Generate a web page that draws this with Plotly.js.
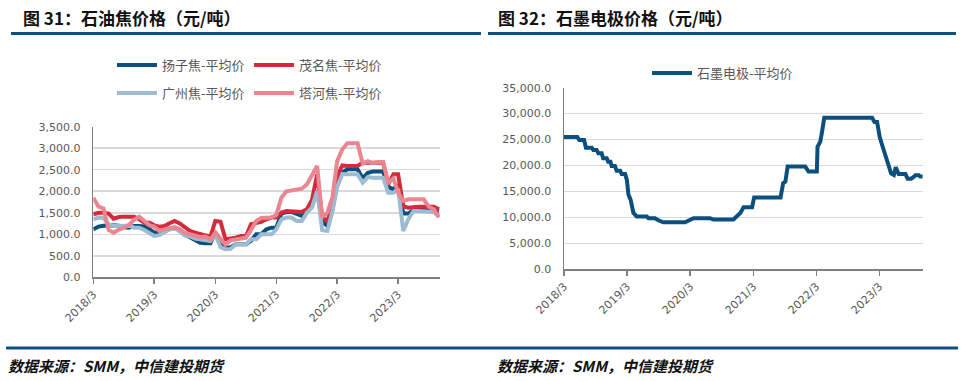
<!DOCTYPE html>
<html>
<head>
<meta charset="utf-8">
<script src="https://cdn.plot.ly/plotly-3.0.1.min.js"></script>
<style>html,body{margin:0;padding:0;background:#fff;}#chart{width:964px;height:381px;}</style>
</head>
<body>
<div id="chart"></div>
<script>
// ---------- Left chart: petroleum coke monthly average prices (元/吨), from 2018-03 ----------
const cokeStartYear = 2018, cokeStartMonth = 3;
const yangzi  = [1115,1177,1200,1208,1208,1200,1160,1154,1193,1193,1180,1115,1038,1038,1060,1120,1154,1100,980,930,850,800,790,790,
                 1050,820,689,700,767,767,767,850,1000,1000,1115,1154,1154,1480,1518,1518,1480,1425,1541,1780,2006,1300,1193,1580,
                 2200,2432,2510,2510,2510,2300,2430,2456,2456,2456,2100,2045,2150,1480,1480,1565,1565,1565,1565,1565,1541];
const maoming = [1464,1500,1500,1480,1363,1400,1410,1410,1405,1348,1270,1270,1208,1177,1190,1255,1309,1250,1154,1077,1038,1000,960,945,
                 1309,1290,883,900,922,960,960,1232,1250,1290,1348,1387,1387,1503,1541,1541,1541,1520,1580,1800,2390,1400,1309,1657,
                 2350,2600,2587,2587,2587,2665,2665,2665,2665,2665,2161,2394,2394,1650,1619,1642,1642,1642,1642,1642,1580];
const guangzhou = [1348,1387,1380,1232,1193,1193,1193,1200,1154,1154,1100,1038,960,980,1054,1115,1150,1050,975,950,900,883,860,844,
                 1000,700,651,660,767,767,767,883,883,1000,1000,1000,1115,1348,1387,1387,1309,1309,1503,1620,2006,1100,1077,1541,
                 2100,2400,2394,2394,2394,2200,2330,2316,2316,2316,1967,1967,2050,1077,1348,1541,1541,1541,1541,1520,1400];
const tahe    = [1851,1642,1600,1100,1038,1110,1154,1220,1340,1410,1309,1208,1177,1077,1115,1130,1160,1120,1030,1000,970,930,945,883,
                 1040,900,760,860,883,900,920,1100,1309,1380,1387,1387,1450,1851,2000,2022,2022,2060,2161,2350,2587,1400,1500,1870,
                 2700,2975,3114,3114,3114,2640,2700,2650,2680,2680,2200,2300,1967,1774,1812,1812,1812,1812,1640,1580,1400];
const cokeNames = ['扬子焦-平均价','茂名焦-平均价','广州焦-平均价','塔河焦-平均价'];

// ---------- Right chart: graphite electrode average price (元/吨) ----------
const graphiteDates = ['2018-03-01','2018-05-17','2018-05-28','2018-06-25','2018-07-06','2018-08-08','2018-08-18','2018-09-06',
  '2018-09-16','2018-10-05','2018-10-14','2018-11-03','2018-11-12','2018-11-25','2018-12-02','2018-12-21','2018-12-31','2019-01-20',
  '2019-01-29','2019-02-18','2019-02-28','2019-03-09','2019-03-22','2019-04-07','2019-04-26','2019-06-23','2019-07-03','2019-08-10',
  '2019-08-29','2019-09-27','2020-01-31','2020-03-01','2020-03-20','2020-06-24','2020-07-13','2020-11-06','2020-11-27','2020-12-16',
  '2021-01-04','2021-02-22','2021-03-06','2021-08-06','2021-08-21','2021-09-03','2021-09-16','2021-12-27','2022-01-15','2022-03-04',
  '2022-03-08','2022-03-24','2022-04-03','2022-04-16','2023-01-18','2023-02-01','2023-02-16','2023-03-03','2023-03-17','2023-04-15',
  '2023-05-08','2023-05-24','2023-06-04','2023-06-21','2023-07-30','2023-08-12','2023-08-31','2023-09-12','2023-09-26','2023-10-15',
  '2023-10-24','2023-11-08'];
const graphiteValues = [25500,25500,24900,24900,23450,23450,23000,23000,
  22350,22350,21400,21400,20750,20750,19900,19900,19000,19000,
  18350,18350,17250,14400,13400,10850,10200,10200,9850,9850,
  9450,9050,9050,9550,9850,9850,9600,9600,10200,10850,
  11950,11950,13850,13850,16600,16900,19800,19800,18850,18850,
  23600,24600,26500,29200,29200,28400,28400,25500,23950,21050,
  18500,18200,19650,18350,18350,17450,17450,17700,18150,18150,
  17900,17900];
const graphiteName = '石墨电极-平均价';

// ---------- tick labels ----------
const tickDates = ['2018-03-01','2019-03-01','2020-03-01','2021-03-01','2022-03-01','2023-03-01'];
const tickLabels = ['2018/3','2019/3','2020/3','2021/3','2022/3','2023/3'];

// monthly date categories for the coke series
const cokeDates = [];
for (let i = 0; i < yangzi.length; i++) {
  const mm = cokeStartMonth - 1 + i;
  const y = cokeStartYear + Math.floor(mm / 12);
  const m = (mm % 12) + 1;
  cokeDates.push(y + '-' + String(m).padStart(2, '0') + '-01');
}

const W = 964, H = 381;
const px = v => v / W;
const py = v => 1 - v / H;

const colors = ['#0b4f7e', '#d32a3c', '#9dbbd1', '#eb858f'];
const cokeSeries = [yangzi, maoming, guangzhou, tahe];
const legendFor = ['legend', 'legend', 'legend2', 'legend2'];

const traces = cokeSeries.map((vals, i) => ({
  type: 'scatter', mode: 'lines', x: cokeDates, y: vals, name: cokeNames[i],
  line: {color: colors[i], width: 4}, xaxis: 'x', yaxis: 'y', legend: legendFor[i]
}));
traces.push({
  type: 'scatter', mode: 'lines', x: graphiteDates, y: graphiteValues, name: graphiteName,
  line: {color: '#0b4f7e', width: 4, shape: 'linear'}, xaxis: 'x2', yaxis: 'y2', legend: 'legend3'
});

const tickFont = {family: 'DejaVu Sans, Verdana, sans-serif', size: 11, color: '#595959'};
const legFont = {family: 'Noto Sans CJK SC, sans-serif', size: 13, color: '#595959'};
const xRange = ['2018-03-01', '2023-11-07'];

function xAxis(domain, anchor) {
  return {
    domain: domain, anchor: anchor, type: 'date', range: xRange,
    tickmode: 'array', tickvals: tickDates, ticktext: tickLabels, tickangle: -45,
    tickfont: tickFont, ticks: 'outside', ticklen: 5, tickwidth: 1.5, tickcolor: '#7f7f7f',
    showline: true, linecolor: '#7f7f7f', linewidth: 1.5, showgrid: false, zeroline: false,
    fixedrange: true
  };
}
function yAxis(domain, anchor, max, dtick) {
  return {
    domain: domain, anchor: anchor, range: [0, max], dtick: dtick, tick0: 0,
    tickformat: ',.1f', tickfont: tickFont, ticks: '', ticklabelstandoff: 9,
    showline: true, linecolor: '#7f7f7f', linewidth: 1.5,
    showgrid: true, gridcolor: '#d9d9d9', gridwidth: 1.5, zeroline: false, fixedrange: true
  };
}

const titleFont = {family: 'Noto Sans CJK SC, sans-serif', size: 17, color: '#111', weight: 'bold'};
const srcFont = {family: 'Noto Sans CJK SC, sans-serif', size: 15, color: '#111', weight: 'bold', style: 'italic'};
const ruleColor = '#0d4f7d';

const layout = {
  width: W, height: H, margin: {l: 0, r: 0, t: 0, b: 0},
  paper_bgcolor: '#fff', plot_bgcolor: '#fff', showlegend: true,
  xaxis: xAxis([px(93.3), px(440)], 'y'),
  yaxis: yAxis([py(277.3), py(126.7)], 'x', 3500, 500),
  xaxis2: xAxis([px(564), px(922.7)], 'y2'),
  yaxis2: yAxis([py(269.3), py(87.7)], 'x2', 35000, 5000),
  legend: {x: px(112), y: py(65), xanchor: 'left', yanchor: 'middle', orientation: 'h',
           entrywidth: 82, entrywidthmode: 'pixels', itemwidth: 40, font: legFont, bgcolor: 'rgba(0,0,0,0)', borderwidth: 0},
  legend2: {x: px(112), y: py(93), xanchor: 'left', yanchor: 'middle', orientation: 'h',
           entrywidth: 82, entrywidthmode: 'pixels', itemwidth: 40, font: legFont, bgcolor: 'rgba(0,0,0,0)', borderwidth: 0},
  legend3: {x: px(647), y: py(73), xanchor: 'left', yanchor: 'middle', orientation: 'h',
           itemwidth: 40, font: legFont, bgcolor: 'rgba(0,0,0,0)', borderwidth: 0},
  shapes: [
    {type: 'line', xref: 'paper', yref: 'paper', x0: px(11), x1: px(481), y0: py(33.5), y1: py(33.5), line: {color: ruleColor, width: 3}},
    {type: 'line', xref: 'paper', yref: 'paper', x0: px(488), x1: px(956), y0: py(33.5), y1: py(33.5), line: {color: ruleColor, width: 3}},
    {type: 'line', xref: 'paper', yref: 'paper', x0: px(6), x1: px(958), y0: py(348), y1: py(348), line: {color: ruleColor, width: 3}}
  ],
  annotations: [
    {xref: 'paper', yref: 'paper', x: px(21), y: py(17.5), xanchor: 'left', yanchor: 'middle', showarrow: false,
     text: '图 31：石油焦价格（元/吨）', font: titleFont},
    {xref: 'paper', yref: 'paper', x: px(496), y: py(17.5), xanchor: 'left', yanchor: 'middle', showarrow: false,
     text: '图 32：石墨电极价格（元/吨）', font: titleFont},
    {xref: 'paper', yref: 'paper', x: px(6), y: py(365), xanchor: 'left', yanchor: 'middle', showarrow: false,
     text: '数据来源：SMM，中信建投期货', font: srcFont},
    {xref: 'paper', yref: 'paper', x: px(495), y: py(365), xanchor: 'left', yanchor: 'middle', showarrow: false,
     text: '数据来源：SMM，中信建投期货', font: srcFont}
  ]
};

Plotly.newPlot('chart', traces, layout, {displayModeBar: false, staticPlot: true});
</script>
</body>
</html>
